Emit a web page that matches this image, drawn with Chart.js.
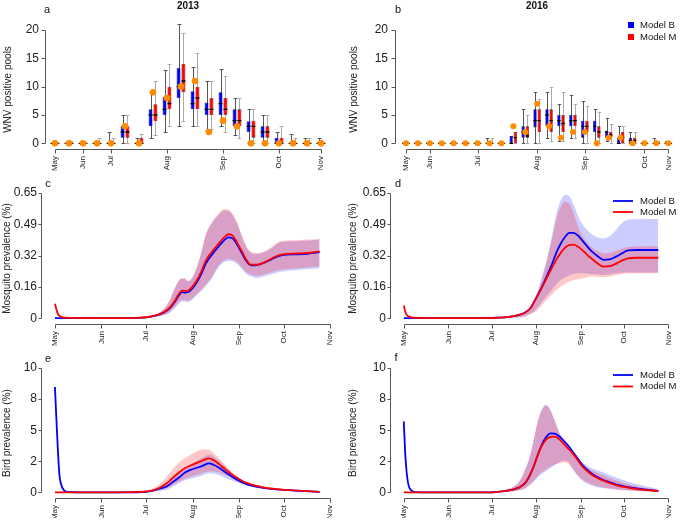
<!DOCTYPE html>
<html>
<head>
<meta charset="utf-8">
<script src="https://cdn.jsdelivr.net/npm/chart.js@4.4.1/dist/chart.umd.min.js"></script>
<style>
    html, body { margin: 0; padding: 0; background: #fff; }
    #wrap { position: relative; width: 685px; height: 520px; }
    #wrap canvas { position: absolute; left: 0; top: 0; }
</style>
</head>
<body>
<div id="wrap">
    <canvas id="panelA" width="685" height="520"></canvas>
    <canvas id="panelB" width="685" height="520"></canvas>
    <canvas id="panelC" width="685" height="520"></canvas>
    <canvas id="panelD" width="685" height="520"></canvas>
    <canvas id="panelE" width="685" height="520"></canvas>
    <canvas id="panelF" width="685" height="520"></canvas>
</div>
<script>
// ---------- top row: weekly WNV positive pools (boxes = model runs, dots = observed) ----------
const weeks2013 = ['May','','Jun','','Jul','','','','Aug','','','','Sep','','','','Oct','','','Nov'];
const obs2013  = [0,0,0,0,0,3,0,9,8,10,11,2,4,3,0,0,0,0,0,0];
const b2013Lo  = [0,0,0,0,0,0,0,1,2,3,3,2.3,3,1.5,0,0,0,0,0,0];
const b2013Q1  = [0,0,0,0,0,1,0,3,5,8,6,5,5,3,2,1,0,0,0,0];
const b2013Med = [0,0,0,0,0,2,0,5,6,10,7,6,7,4,3,2,0,0,0,0];
const b2013Q3  = [0,0,0,0,0,3,0,6,8.2,13.3,9.2,7.2,9,6,3.9,3,1,0,0,0];
const b2013Hi  = [0,0,0,0,2,5,1,9,13,21,13.5,11,13.1,8,6,5,2,1.6,1,1];
const m2013Lo  = [0,0,0,0,0,0,0,1.4,3,4,3,2.6,2,1,0,0,0,0,0,0];
const m2013Q1  = [0,0,0,0,0,1,0,3.9,6,9,6,5,5,3,1,1,0,0,0,0];
const m2013Med = [0,0,0,0,0,2,0,5,7,11,8,6,6,4,3,2,0,0,0,0];
const m2013Q3  = [0,0,0,0,0,3,1,6.9,10,14,10,8,8,6,4,3,1,0,0,0];
const m2013Hi  = [0,0.5,0,1,1,5,1.6,11,14,19.5,16,11,11.9,8,6,5,3,1,1,0];

const weeks2016 = ['May','','Jun','','','','Jul','','','','','Aug','','','','Sep','','','','','Oct','','Nov'];
const obs2016  = [0,0,0,0,0,0,0,0,0,3,2,7,3,1,2,2,0,1,1,0,0,0,0];
const b2016Lo  = [0,0,0,0,0,0,0,0,0,0,0,0,1,0.5,1,0,0,0.5,0,0,0,0,0];
const b2016Q1  = [0,0,0,0,0,0,0,0,0,0,1,2.8,3,3,3,1,2,1,0,0,0,0,0];
const b2016Med = [0,0,0,0,0,0,0,0,0,0,2,4,5,4,4,3,3,2,0,0.5,0,0,0];
const b2016Q3  = [0,0,0,0,0,0,0,0,0,1.3,3,6,6,5,5,4,4,2.2,1,1,0,0,0];
const b2016Hi  = [0,0,0,0,0,0,0,1,0,1.3,6,9,9,7,8.5,7.5,6,4.5,3,2,0,1,0.5];
const m2016Lo  = [0,0,0,0,0,0,0,0,0,0,0,0,0.4,0.5,1,0,0,0,0,0,0,0,0];
const m2016Q1  = [0,0,0,0,0,0,0,0,0,0,1,2,2,2,3,2,1,1,0,0,0,0,0];
const m2016Med = [0,0,0,0,0,0,0,0,0,1,1.3,4,4,3.5,4,3,2,1.5,1,0.5,0,0,0];
const m2016Q3  = [0,0,0,0,0,0,0,0,0,2,3,6,6,5,5,4,3,2,2,1,0,0,0];
const m2016Hi  = [0,0,0,0,0,0,0,1,0,2,5,7.9,10,9,7,6.5,5.5,3.5,3,2,0,0.5,0];

const poolTicks = [0, 5, 10, 15, 20];

// ---------- middle / bottom rows: prevalence, x = days since 1 May ----------
const monthDays  = [0, 31, 61, 92, 123, 153, 184];
const monthNames = ['May', 'Jun', 'Jul', 'Aug', 'Sep', 'Oct', 'Nov'];
const mosqTicks      = [0, 0.1625, 0.325, 0.4875, 0.65];
const mosqTickLabels = ['0', '0.16', '0.32', '0.49', '0.65'];
const birdTicks      = [0, 2.5, 5, 7.5, 10];
const birdTickLabels = ['0', '2', '5', '8', '10'];

// c: mosquito 2013
const daysC  = [0,1,2,4,7,20,40,55,61,66,70,74,77,80,83,85,87,89,92,95,98,101,105,109,113,116,119,122,125,128,131,135,140,145,150,155,162,170,177];
const cMLine = [0.075,0.045,0.022,0.008,0.003,0.001,0.001,0.002,0.005,0.012,0.022,0.038,0.058,0.088,0.128,0.143,0.142,0.143,0.165,0.198,0.245,0.3,0.345,0.382,0.418,0.436,0.428,0.39,0.348,0.303,0.278,0.278,0.29,0.31,0.327,0.334,0.336,0.339,0.347];
const cBLine = [0,0,0,0,0.001,0.001,0.001,0.002,0.004,0.011,0.02,0.035,0.054,0.083,0.12,0.135,0.133,0.135,0.155,0.188,0.232,0.285,0.33,0.368,0.403,0.42,0.413,0.38,0.338,0.297,0.275,0.276,0.288,0.307,0.323,0.33,0.332,0.336,0.343];
const cMHi   = [0.078,0.048,0.024,0.009,0.004,0.002,0.002,0.003,0.006,0.015,0.03,0.06,0.1,0.155,0.2,0.207,0.207,0.193,0.215,0.27,0.35,0.44,0.5,0.54,0.567,0.565,0.54,0.495,0.43,0.375,0.345,0.338,0.348,0.37,0.398,0.403,0.405,0.408,0.413];
const cMLo   = [0.07,0.04,0.02,0.006,0.002,0,0,0.001,0.003,0.008,0.012,0.02,0.035,0.058,0.085,0.095,0.094,0.092,0.105,0.128,0.15,0.175,0.215,0.27,0.3,0.307,0.305,0.29,0.265,0.24,0.228,0.22,0.228,0.238,0.25,0.255,0.26,0.265,0.27];
const cBHi   = [0.002,0.001,0.001,0.001,0.001,0.002,0.002,0.003,0.006,0.014,0.028,0.057,0.096,0.15,0.195,0.203,0.203,0.19,0.21,0.265,0.343,0.432,0.492,0.532,0.558,0.556,0.532,0.488,0.425,0.37,0.34,0.333,0.343,0.365,0.392,0.398,0.4,0.403,0.408];
const cBLo   = [0,0,0,0,0,0,0,0,0.002,0.006,0.01,0.017,0.03,0.05,0.077,0.087,0.086,0.084,0.097,0.12,0.142,0.167,0.206,0.26,0.29,0.297,0.295,0.28,0.255,0.23,0.218,0.21,0.218,0.228,0.24,0.245,0.25,0.255,0.26];

// d: mosquito 2016
const daysD  = [0,1,2,4,7,20,40,60,66,72,77,80,84,88,91,94,97,100,103,106,109,112,115,118,121,124,127,130,133,136,139,143,148,152,156,162,170,177];
const dMLine = [0.066,0.035,0.018,0.007,0.003,0.001,0.001,0.001,0.003,0.006,0.012,0.017,0.028,0.052,0.09,0.13,0.173,0.218,0.262,0.303,0.338,0.365,0.38,0.382,0.372,0.355,0.333,0.313,0.294,0.278,0.268,0.27,0.285,0.3,0.311,0.314,0.314,0.314];
const dBLine = [0,0,0,0.001,0.001,0.001,0.001,0.001,0.003,0.006,0.012,0.017,0.028,0.052,0.09,0.132,0.178,0.228,0.28,0.338,0.385,0.42,0.443,0.443,0.43,0.405,0.378,0.352,0.333,0.315,0.303,0.305,0.321,0.338,0.352,0.354,0.354,0.354];
const dMHi   = [0.068,0.037,0.02,0.008,0.004,0.002,0.002,0.002,0.004,0.008,0.014,0.02,0.032,0.055,0.095,0.15,0.225,0.315,0.41,0.51,0.575,0.605,0.595,0.545,0.48,0.43,0.397,0.372,0.355,0.345,0.336,0.338,0.35,0.362,0.37,0.372,0.373,0.373];
const dMLo   = [0.064,0.033,0.016,0.006,0.002,0,0,0,0.001,0.002,0.004,0.006,0.012,0.022,0.032,0.05,0.077,0.1,0.123,0.145,0.163,0.178,0.19,0.197,0.202,0.207,0.212,0.216,0.216,0.214,0.213,0.216,0.224,0.229,0.233,0.234,0.234,0.234];
const dBHi   = [0.002,0.001,0.001,0.001,0.001,0.001,0.001,0.002,0.004,0.008,0.012,0.016,0.03,0.06,0.105,0.165,0.24,0.32,0.43,0.54,0.61,0.64,0.635,0.59,0.535,0.49,0.46,0.44,0.425,0.418,0.414,0.425,0.462,0.495,0.512,0.514,0.515,0.515];
const dBLo   = [0,0,0,0,0,0,0,0,0.001,0.002,0.002,0.003,0.008,0.022,0.038,0.065,0.093,0.12,0.148,0.175,0.198,0.212,0.222,0.229,0.233,0.233,0.232,0.23,0.228,0.226,0.225,0.228,0.234,0.236,0.237,0.237,0.237,0.237];

// e: bird 2013
const daysE  = [0,1,2,3,4,6,8,15,30,50,61,65,70,75,79,83,87,91,95,99,103,106,110,114,118,122,126,130,135,140,146,153,160,168,177];
const eMLine = [0,0,0,0,0,0,0,0,0,0.02,0.08,0.15,0.37,0.75,1.2,1.6,1.96,2.18,2.38,2.58,2.74,2.6,2.25,1.85,1.47,1.15,0.88,0.68,0.52,0.39,0.3,0.21,0.16,0.1,0.05];
const eBLine = [8.47,5.8,3.3,1.4,0.7,0.18,0.05,0.01,0,0.01,0.05,0.12,0.3,0.5,0.85,1.2,1.6,1.82,1.98,2.15,2.34,2.22,1.96,1.62,1.3,1.0,0.76,0.58,0.45,0.34,0.27,0.2,0.15,0.1,0.05];
const eMHi   = [0.02,0.02,0.02,0.02,0.02,0.02,0.02,0.02,0.02,0.03,0.12,0.3,0.65,1.29,1.9,2.4,2.76,3.05,3.3,3.45,3.45,3.16,2.7,2.2,1.7,1.3,0.97,0.73,0.57,0.46,0.36,0.27,0.2,0.13,0.08];
const eMLo   = [0,0,0,0,0,0,0,0,0,0,0.05,0.08,0.18,0.35,0.6,0.88,1.1,1.3,1.42,1.58,1.68,1.68,1.6,1.4,1.2,0.98,0.8,0.62,0.48,0.38,0.3,0.2,0.15,0.1,0.05];
const eBHi   = [9.2,6.3,3.7,1.7,0.9,0.25,0.08,0.02,0.01,0.02,0.1,0.2,0.45,0.75,1.2,1.6,1.92,2.25,2.55,2.8,3.02,2.88,2.5,2.05,1.62,1.2,0.9,0.7,0.53,0.4,0.32,0.24,0.17,0.11,0.06];
const eBLo   = [7.8,5.3,2.9,1.1,0.5,0.12,0.02,0,0,0,0.02,0.05,0.12,0.21,0.48,0.75,0.98,1.12,1.24,1.38,1.53,1.52,1.38,1.18,0.98,0.8,0.64,0.5,0.38,0.3,0.23,0.17,0.12,0.08,0.04];

// f: bird 2016
const daysF  = [0,1,2,3,4,6,8,15,30,50,64,68,72,76,80,84,87,90,93,96,99,102,105,108,111,114,117,120,124,128,132,137,142,148,155,162,170,177];
const fMLine = [0,0,0,0,0,0,0,0,0,0,0.03,0.08,0.14,0.23,0.38,0.7,1.25,2.0,2.95,3.75,4.25,4.47,4.48,4.28,3.93,3.56,3.2,2.75,2.1,1.66,1.32,1.03,0.8,0.57,0.4,0.27,0.18,0.11];
const fBLine = [5.71,3.1,1.6,0.75,0.35,0.1,0.03,0,0,0,0.03,0.08,0.14,0.23,0.38,0.7,1.22,1.98,2.95,3.85,4.45,4.75,4.72,4.52,4.18,3.8,3.35,2.88,2.24,1.76,1.4,1.1,0.86,0.62,0.45,0.32,0.2,0.11];
const fMHi   = [0.02,0.02,0.02,0.02,0.02,0.02,0.02,0.02,0.02,0.02,0.06,0.12,0.24,0.42,0.8,1.7,2.6,4.0,5.6,6.6,6.97,6.55,5.7,4.8,4.15,3.6,3.12,2.72,2.3,1.95,1.7,1.45,1.22,0.95,0.7,0.5,0.33,0.21];
const fMLo   = [0,0,0,0,0,0,0,0,0,0,0.01,0.03,0.06,0.1,0.17,0.32,0.58,0.9,1.3,1.62,1.85,2.08,2.22,2.34,2.4,2.35,1.95,1.5,1.05,0.78,0.58,0.44,0.34,0.26,0.18,0.12,0.08,0.05];
const fBHi   = [6.0,3.4,1.8,0.9,0.45,0.15,0.05,0.02,0.02,0.02,0.07,0.13,0.26,0.45,0.85,1.75,2.65,4.05,5.65,6.7,7.05,6.65,5.8,4.9,4.25,3.7,3.2,2.85,2.45,2.1,1.9,1.68,1.45,1.18,0.9,0.68,0.45,0.27];
const fBLo   = [5.4,2.8,1.4,0.6,0.25,0.06,0.01,0,0,0,0.01,0.03,0.06,0.1,0.16,0.3,0.52,0.82,1.2,1.5,1.72,1.96,2.2,2.42,2.55,2.5,2.0,1.45,0.95,0.68,0.5,0.38,0.3,0.22,0.16,0.11,0.07,0.04];

const BLUE = '#0000ff';
const RED = '#ff0000';
const ORANGE = '#ff8c00';
const BAND_B = 'rgba(0, 0, 255, 0.2)';
const BAND_M = 'rgba(255, 0, 0, 0.22)';
const AXIS = '#555';
const FONT = '"Liberation Sans", Arial, Helvetica, sans-serif';

Chart.defaults.font.family = FONT;
Chart.defaults.color = '#222';

// R style detached axes: y line from first to last tick, x line between first and last tick
function rAxes(gap, tick) {
    return {
        id: 'rAxes',
        afterDraw(chart) {
            const ctx = chart.ctx, xs = chart.scales.x, ys = chart.scales.y;
            const ax = Math.round(chart.chartArea.left - gap) + 0.5;
            const ay = Math.round(chart.chartArea.bottom) + 0.5;
            const yp = ys.ticks.map(t => Math.round(ys.getPixelForValue(t.value)) + 0.5);
            const xp = xs.ticks.map(t => Math.round(xs.getPixelForValue(t.value)) + 0.5);
            ctx.save();
            ctx.strokeStyle = AXIS;
            ctx.lineWidth = 1;
            ctx.beginPath();
            ctx.moveTo(ax, yp[0]);
            ctx.lineTo(ax, yp[yp.length - 1]);
            yp.forEach(p => { ctx.moveTo(ax, p); ctx.lineTo(ax - tick, p); });
            ctx.moveTo(xp[0], ay);
            ctx.lineTo(xp[xp.length - 1], ay);
            xp.forEach(p => { ctx.moveTo(p, ay); ctx.lineTo(p, ay + 4); });
            ctx.stroke();
            ctx.restore();
        }
    };
}

// panel letter, title and legend
function panelText(cfg) {
    return {
        id: 'panelText',
        afterDraw(chart) {
            const ctx = chart.ctx;
            ctx.save();
            ctx.fillStyle = '#111';
            ctx.textBaseline = 'middle';
            ctx.textAlign = 'center';
            ctx.font = '11px ' + FONT;
            ctx.fillText(cfg.letter, cfg.letterAt[0], cfg.letterAt[1]);
            if (cfg.title) {
                ctx.font = 'bold 10px ' + FONT;
                ctx.fillText(cfg.title, cfg.titleAt[0], cfg.titleAt[1]);
            }
            if (cfg.legend) {
                const lg = cfg.legend;
                ctx.font = '9.5px ' + FONT;
                ctx.textAlign = 'left';
                lg.items.forEach((it, i) => {
                    const y = lg.y + i * lg.step;
                    if (lg.kind === 'box') {
                        ctx.fillStyle = it.color;
                        ctx.fillRect(lg.x, y - 3, 6, 6);
                    } else {
                        ctx.strokeStyle = it.color;
                        ctx.lineWidth = 1.8;
                        ctx.beginPath();
                        ctx.moveTo(lg.x, y);
                        ctx.lineTo(lg.x + 20, y);
                        ctx.stroke();
                    }
                    ctx.fillStyle = '#111';
                    ctx.fillText(it.label, lg.textX, y);
                });
            }
            ctx.restore();
        }
    };
}

// whiskers under the boxes, medians on top of them
const boxParts = {
    id: 'boxParts',
    beforeDatasetsDraw(chart) {
        const ctx = chart.ctx, ys = chart.scales.y;
        ctx.save();
        ctx.lineWidth = 1;
        chart.data.datasets.forEach((ds, k) => {
            if (!ds.stats) return;
            const st = ds.stats;
            ctx.strokeStyle = ds.whiskerColor;
            ctx.beginPath();
            chart.getDatasetMeta(k).data.forEach((bar, i) => {
                if (st.hi[i] <= st.lo[i]) return;
                const x = Math.round(bar.x) + 0.5;
                const yl = Math.round(ys.getPixelForValue(st.lo[i])) + 0.5;
                const yh = Math.round(ys.getPixelForValue(st.hi[i])) + 0.5;
                const cw = bar.width / 2;
                ctx.moveTo(x, yl); ctx.lineTo(x, yh);
                ctx.moveTo(x - cw, yh); ctx.lineTo(x + cw, yh);
                ctx.moveTo(x - cw, yl); ctx.lineTo(x + cw, yl);
            });
            ctx.stroke();
        });
        ctx.restore();
    },
    afterDatasetDraw(chart, args) {
        const ds = chart.data.datasets[args.index];
        if (!ds.stats) return;
        const ctx = chart.ctx, ys = chart.scales.y;
        ctx.save();
        ctx.strokeStyle = '#000';
        ctx.lineWidth = 1.4;
        ctx.beginPath();
        args.meta.data.forEach((bar, i) => {
            const y = ys.getPixelForValue(ds.stats.med[i]);
            ctx.moveTo(bar.x - bar.width / 2, y);
            ctx.lineTo(bar.x + bar.width / 2, y);
        });
        ctx.stroke();
        ctx.restore();
    }
};

function boxPanel(canvasId, p) {
    const boxSet = (label, s, color, whisker) => ({
        label: label,
        data: s.q1.map((v, i) => [v, s.q3[i]]),
        stats: s,
        whiskerColor: whisker,
        backgroundColor: color,
        borderColor: '#222',
        borderWidth: 0.6,
        borderSkipped: false,
        categoryPercentage: 0.7,
        barPercentage: 0.8,
        order: 1
    });
    new Chart(document.getElementById(canvasId), {
        type: 'bar',
        data: {
            labels: p.labels,
            datasets: [
                boxSet('Model B', p.b, BLUE, '#555'),
                boxSet('Model M', p.m, RED, '#aaa'),
                {
                    type: 'line', label: 'Observed', data: p.obs, showLine: false,
                    pointRadius: p.dot, pointBackgroundColor: ORANGE, pointBorderWidth: 0, order: 0
                }
            ]
        },
        options: {
            responsive: false,
            animation: false,
            events: [],
            layout: { padding: p.pad },
            plugins: { legend: { display: false }, tooltip: { enabled: false } },
            scales: {
                x: {
                    grid: { display: false, drawTicks: false },
                    border: { display: false },
                    afterBuildTicks: s => { s.ticks = s.ticks.filter(t => p.labels[t.value]); },
                    afterFit: s => { s.height = 30; },
                    ticks: { autoSkip: false, minRotation: 90, maxRotation: 90, font: { size: 8 }, padding: 7 }
                },
                y: {
                    min: -1, max: 20,
                    grid: { display: false, drawTicks: false },
                    border: { display: false },
                    afterBuildTicks: s => { s.ticks = poolTicks.map(v => ({ value: v })); },
                    afterFit: s => { s.width = p.yWidth; },
                    ticks: { font: { size: 12 }, padding: p.yPad },
                    title: { display: true, text: 'WNV positive pools', font: { size: 10 }, padding: { top: 2, bottom: 0 } }
                }
            }
        },
        plugins: [boxParts, rAxes(p.gap, 4), panelText(p.text)]
    });
}

function linePanel(canvasId, p) {
    const xy = vals => vals.map((v, i) => ({ x: p.days[i], y: v }));
    const line = (label, vals, color) => ({
        label: label, data: xy(vals), borderColor: color, borderWidth: 1.8,
        pointRadius: 0, fill: false, cubicInterpolationMode: 'monotone'
    });
    const band = (vals, color, fill) => ({
        data: xy(vals), borderWidth: 0, borderColor: 'transparent', pointRadius: 0,
        backgroundColor: color, fill: fill, cubicInterpolationMode: 'monotone'
    });
    new Chart(document.getElementById(canvasId), {
        type: 'line',
        data: {
            datasets: [
                line('Model M', p.mLine, RED),
                line('Model B', p.bLine, BLUE),
                band(p.mHi, BAND_M, '+1'),
                band(p.mLo, BAND_M, false),
                band(p.bHi, BAND_B, '+1'),
                band(p.bLo, BAND_B, false)
            ]
        },
        options: {
            responsive: false,
            animation: false,
            events: [],
            layout: { padding: p.pad },
            plugins: { legend: { display: false }, tooltip: { enabled: false } },
            scales: {
                x: {
                    type: 'linear', min: p.xMin, max: p.xMax,
                    grid: { display: false, drawTicks: false },
                    border: { display: false },
                    afterBuildTicks: s => { s.ticks = monthDays.map(v => ({ value: v })); },
                    afterFit: s => { s.height = p.xHeight; },
                    ticks: {
                        autoSkip: false, minRotation: 90, maxRotation: 90, font: { size: 8 }, padding: 7,
                        callback: v => monthNames[monthDays.indexOf(v)]
                    }
                },
                y: {
                    min: p.yMin, max: p.yMax,
                    grid: { display: false, drawTicks: false },
                    border: { display: false },
                    afterBuildTicks: s => { s.ticks = p.yTicks.map(v => ({ value: v })); },
                    afterFit: s => { s.width = p.yWidth; },
                    ticks: { font: { size: 12 }, padding: 6, callback: (v, i) => p.yLabels[i] },
                    title: { display: true, text: p.yTitle, font: { size: 10 }, padding: { top: 1, bottom: 0 } }
                }
            }
        },
        plugins: [rAxes(2, 3), panelText(p.text)]
    });
}

const modelItems = [{ label: 'Model B', color: BLUE }, { label: 'Model M', color: RED }];

boxPanel('panelA', {
    labels: weeks2013, obs: obs2013, dot: 3.3,
    b: { lo: b2013Lo, q1: b2013Q1, med: b2013Med, q3: b2013Q3, hi: b2013Hi },
    m: { lo: m2013Lo, q1: m2013Q1, med: m2013Med, q3: m2013Q3, hi: m2013Hi },
    pad: { left: 0, top: 30, right: 357, bottom: 341 }, yWidth: 48, yPad: 9, gap: 3,
    text: { letter: 'a', letterAt: [47, 10], title: '2013', titleAt: [188, 6] }
});

boxPanel('panelB', {
    labels: weeks2016, obs: obs2016, dot: 3,
    b: { lo: b2016Lo, q1: b2016Q1, med: b2016Med, q3: b2016Q3, hi: b2016Hi },
    m: { lo: m2016Lo, q1: m2016Q1, med: m2016Med, q3: m2016Q3, hi: m2016Hi },
    pad: { left: 346, top: 30, right: 4, bottom: 341 }, yWidth: 54, yPad: 12, gap: 5,
    text: {
        letter: 'b', letterAt: [398, 10], title: '2016', titleAt: [537, 6],
        legend: { kind: 'box', items: modelItems, x: 628, textX: 640, y: 25, step: 12 }
    }
});

linePanel('panelC', {
    days: daysC, mLine: cMLine, bLine: cBLine, mHi: cMHi, mLo: cMLo, bHi: cBHi, bLo: cBLo,
    xMin: -8, xMax: 185.3, yMin: -0.03, yMax: 0.65, yTicks: mosqTicks, yLabels: mosqTickLabels,
    yTitle: 'Mosquito prevalence (%)',
    pad: { left: 0, top: 193, right: 353, bottom: 166 }, yWidth: 43, xHeight: 30,
    text: { letter: 'c', letterAt: [48, 184] }
});

linePanel('panelD', {
    days: daysD, mLine: dMLine, bLine: dBLine, mHi: dMHi, mLo: dMLo, bHi: dBHi, bLo: dBLo,
    xMin: -8.2, xMax: 185.3, yMin: -0.03, yMax: 0.65, yTicks: mosqTicks, yLabels: mosqTickLabels,
    yTitle: 'Mosquito prevalence (%)',
    pad: { left: 346, top: 193, right: 3, bottom: 166 }, yWidth: 46, xHeight: 30,
    text: {
        letter: 'd', letterAt: [398, 184],
        legend: { kind: 'line', items: modelItems, x: 613, textX: 640, y: 201, step: 11 }
    }
});

linePanel('panelE', {
    days: daysE, mLine: eMLine, bLine: eBLine, mHi: eMHi, mLo: eMLo, bHi: eBHi, bLo: eBLo,
    xMin: -8, xMax: 185.3, yMin: -0.45, yMax: 10, yTicks: birdTicks, yLabels: birdTickLabels,
    yTitle: 'Bird prevalence (%)',
    pad: { left: 0, top: 368, right: 353, bottom: 2 }, yWidth: 43, xHeight: 20,
    text: { letter: 'e', letterAt: [48, 359] }
});

linePanel('panelF', {
    days: daysF, mLine: fMLine, bLine: fBLine, mHi: fMHi, mLo: fMLo, bHi: fBHi, bLo: fBLo,
    xMin: -8.2, xMax: 185.3, yMin: -0.45, yMax: 10, yTicks: birdTicks, yLabels: birdTickLabels,
    yTitle: 'Bird prevalence (%)',
    pad: { left: 346, top: 368, right: 3, bottom: 2 }, yWidth: 46, xHeight: 20,
    text: {
        letter: 'f', letterAt: [396, 358],
        legend: { kind: 'line', items: modelItems, x: 613, textX: 640, y: 375, step: 11.5 }
    }
});
</script>
</body>
</html>
